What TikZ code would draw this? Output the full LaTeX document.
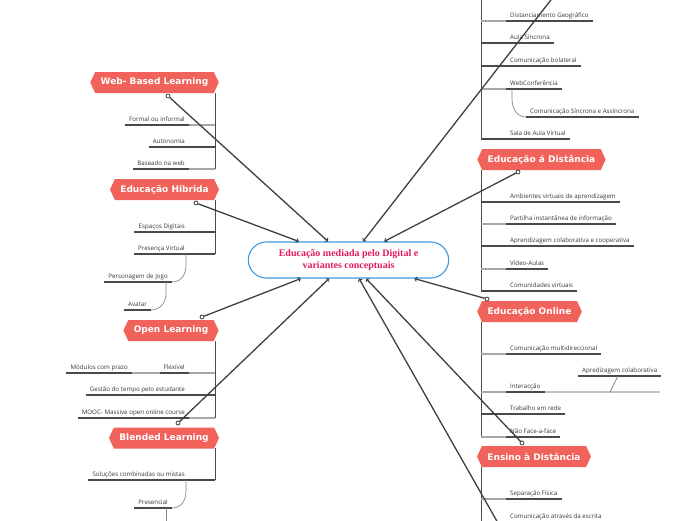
\documentclass[tikz,border=0pt]{standalone}
\usepackage{fontspec}
\newfontfamily\itemfont{Open Sans}
\newfontfamily\topicfont{DejaVu Sans}
\newfontfamily\centerfont{Liberation Serif}
\usetikzlibrary{shapes.misc,shapes.symbols,arrows.meta}
\definecolor{topicred}{HTML}{F0625A}
\definecolor{centerblue}{HTML}{3D9BDB}
\definecolor{centertext}{HTML}{E31C5F}
\definecolor{conncol}{HTML}{404040}
\definecolor{linedark}{HTML}{4A4A4A}
\definecolor{linelight}{HTML}{A8A8A8}
\definecolor{itemtext}{HTML}{383838}
\begin{document}
\begin{tikzpicture}[x=1pt,y=-1pt,
  topic/.style={signal, signal to=west and east, signal pointer angle=130,
    fill=topicred, text=white, font=\topicfont\bfseries\fontsize{9}{10}\selectfont,
    minimum height=21pt, inner xsep=5.5pt, inner ysep=0pt},
  centre/.style={rounded rectangle, draw=centerblue, line width=1.1pt, fill=white,
    minimum width=207pt, minimum height=36pt, align=center, text=centertext,
    font=\centerfont\bfseries\fontsize{10}{12.5}\selectfont},
  ul/.style={draw=linedark, line width=1.2pt},
  item/.style={font=\itemfont\fontsize{6.2}{7}\selectfont, text=itemtext,
    inner xsep=4pt, inner ysep=1pt, text height=5pt, text depth=2.5pt,
    append after command={(\tikzlastnode.south west) edge[ul] (\tikzlastnode.south east)}},
  itemR/.style={item, anchor=south west},
  itemL/.style={item, anchor=south east},
  vline/.style={draw=linedark, line width=1pt},
  hdark/.style={draw=linedark, line width=1.2pt},
  hlight/.style={draw=linelight, line width=1.2pt},
  sub/.style={draw=linelight!80!black, line width=0.7pt},
  conn/.style={draw=conncol, line width=1.3pt, -{Straight Barb[length=2pt,width=4.5pt,line width=0.9pt]}},
  marker/.style={circle, draw=conncol, fill=white, inner sep=0pt, minimum size=4pt, line width=0.8pt}
]
\fill[white] (0,0) rectangle (696,520);
\useasboundingbox (0,0) rectangle (696,520);
\clip (0,0) rectangle (696,520);

% ---------- central node ----------
\node[centre] (center) at (348.5,260) {Educação mediada pelo Digital e\\variantes conceptuais};

% ---------- top branch (topic off canvas) ----------
\coordinate (tT) at (481,-5);
\coordinate (tB) at (481,139);
\draw[vline] (tT) -- (tB);
\node[itemR] (t1) at (506,21) {Distanciamento Geográfico};
\node[itemR] (t2) at (506,43) {Aula Síncrona};
\node[itemR] (t3) at (506,66) {Comunicação bolateral};
\node[itemR] (t4) at (506,89) {WebConferência};
\node[itemR] (t4a) at (526,117) {Comunicação Síncrona e Assíncrona};
\node[itemR] (t5) at (506,139) {Sala de Aula Virtual};
\draw[hlight] (t1.south west -| tT) -- (t1.south west);
\draw[hdark] (t2.south west -| tT) -- (t2.south west);
\draw[hdark] (t3.south west -| tT) -- (t3.south west);
\draw[hlight] (t4.south west -| tT) -- (t4.south west);
\draw[hdark] (t5.south west -| tT) -- (t5.south west);
\draw[sub] ([xshift=6pt]t4.south west) -- ++(0,10) .. controls +(0,11) and +(-8,0) .. (t4a.south west);

% ---------- Educação á Distância ----------
\node[topic] (eda) at (541.5,159.5) {Educação á Distância};
\coordinate (eT) at (481,170);
\coordinate (eB) at (481,291);
\draw[vline] (eT) -- (eB);
\node[itemR] (e1) at (506,202) {Ambientes virtuais de aprendizagem};
\node[itemR] (e2) at (506,224) {Partilha instantânea de informação};
\node[itemR] (e3) at (506,246) {Aprendizagem colaborativa e cooperativa};
\node[itemR] (e4) at (506,269) {Vídeo-Aulas};
\node[itemR] (e5) at (506,291) {Comunidades virtuais};
\draw[hdark] (e1.south west -| eT) -- (e1.south west);
\draw[hlight] (e2.south west -| eT) -- (e2.south west);
\draw[hdark] (e3.south west -| eT) -- (e3.south west);
\draw[hlight] (e4.south west -| eT) -- (e4.south west);
\draw[hdark] (e5.south west -| eT) -- (e5.south west);

% ---------- Educação Online ----------
\node[topic] (onl) at (529.5,311.5) {Educação Online};
\coordinate (oT) at (481,322);
\coordinate (oB) at (481,437);
\draw[vline] (oT) -- (oB);
\node[itemR] (o1) at (506,354) {Comunicação multidireccional};
\node[itemR] (o2) at (506,392) {Interacção};
\node[itemR] (o2a) at (578,376) {Apredizagem colaborativa};
\node[itemR] (o3) at (506,414) {Trabalho em rede};
\node[itemR] (o4) at (506,437) {Não Face-a-face};
\coordinate (o2ext) at (660,392);
\coordinate (o2k) at (610,392);
\draw[hlight] (o1.south west -| oT) -- (o1.south west);
\draw[hlight] (o2.south west -| oT) -- (o2.south west);
\draw[draw=linelight!70, line width=1.2pt] (o2.south east) -- (o2ext);
\draw[sub] (o2k) -- ([xshift=40pt]o2a.south west);
\draw[hdark] (o3.south west -| oT) -- (o3.south west);
\draw[hlight] (o4.south west -| oT) -- (o4.south west);

% ---------- Ensino à Distância ----------
\node[topic] (ens) at (534,456.5) {Ensino à Distância};
\coordinate (nT) at (481,467);
\coordinate (nB) at (481,530);
\draw[vline] (nT) -- (nB);
\node[itemR] (n1) at (506,499) {Separação Física};
\node[itemR] (n2) at (506,522) {Comunicação através da escrita};
\draw[hlight] (n1.south west -| nT) -- (n1.south west);
\draw[hdark] (n2.south west -| nT) -- (n2.south west);

% ---------- Web- Based Learning ----------
\node[topic] (web) at (154.5,82.5) {Web- Based Learning};
\coordinate (wT) at (215,93);
\coordinate (wB) at (215,169);
\draw[vline] (wT) -- (wB);
\node[itemL] (w1) at (189,125) {Formal ou informal};
\node[itemL] (w2) at (189,147) {Autonomia};
\node[itemL] (w3) at (189,169) {Baseado na web};
\draw[hlight] (w1.south east) -- (w1.south east -| wT);
\draw[hdark] (w2.south east) -- (w2.south east -| wT);
\draw[hlight] (w3.south east) -- (w3.south east -| wT);

% ---------- Educação Hibrida ----------
\node[topic] (hib) at (164.5,189.5) {Educação Hibrida};
\coordinate (hT) at (215,200);
\coordinate (hB) at (215,254);
\draw[vline] (hT) -- (hB);
\node[itemL] (h1) at (189,232) {Espaços Digitais};
\node[itemL] (h2) at (189,254) {Presença Virtual};
\node[itemL] (h2a) at (172,282) {Personagem de Jogo};
\node[itemL] (h2b) at (151,310) {Avatar};
\draw[hdark] (h1.south east) -- (h1.south east -| hT);
\draw[hdark] (h2.south east) -- (h2.south east -| hT);
\draw[sub] ([xshift=-3pt]h2.south east) -- ++(0,11) .. controls +(0,11) and +(8,0) .. (h2a.south east);
\draw[sub] ([xshift=-6pt]h2a.south east) -- ++(0,11) .. controls +(0,11) and +(8,0) .. (h2b.south east);

% ---------- Open Learning ----------
\node[topic] (open) at (171,330.5) {Open Learning};
\coordinate (lT) at (215,341);
\coordinate (lB) at (215,418);
\draw[vline] (lT) -- (lB);
\node[itemL] (l1) at (189,373) {Flexível};
\node[itemL] (l1a) at (132,373) {Módulos com prazo};
\node[itemL] (l2) at (189,395) {Gestão do tempo pelo estudante};
\node[itemL] (l3) at (189,418) {MOOC- Massive open online course};
\draw[hlight] (l1.south east) -- (l1.south east -| lT);
\draw[hlight] (l1a.south east) -- (l1.south west);
\draw[hdark] (l2.south east) -- (l2.south east -| lT);
\draw[hlight] (l3.south east) -- (l3.south east -| lT);

% ---------- Blended Learning ----------
\node[topic] (blend) at (164,438) {Blended Learning};
\coordinate (bT) at (215,448);
\coordinate (bB) at (215,480);
\draw[vline] (bT) -- (bB);
\node[itemL] (b1) at (189,480) {Soluções combinadas ou mistas};
\node[itemL] (b1a) at (172,508) {Presencial};
\coordinate (b1aoff) at (166,530);
\draw[hdark] (b1.south east) -- (b1.south east -| bT);
\draw[sub] ([xshift=-3pt]b1.south east) -- ++(0,11) .. controls +(0,11) and +(8,0) .. (b1a.south east);
\draw[sub] ([xshift=-6pt]b1a.south east) -- (b1aoff);

% ---------- connectors ----------
\node[marker] (mweb) at (168,96) {};
\node[marker] (mhib) at (196,203) {};
\node[marker] (mopen) at (202,317) {};
\node[marker] (mblend) at (178,423) {};
\node[marker] (meda) at (518,172) {};
\node[marker] (monl) at (487,299) {};
\node[marker] (mens) at (522,443) {};
\coordinate (topoff) at (582,-40);
\coordinate (botoff) at (519,560);
\draw[conn] (mweb) -- (center);
\draw[conn] (mhib) -- (center);
\draw[conn] (mopen) -- (center);
\draw[conn] (mblend) -- (center);
\draw[conn] (meda) -- (center);
\draw[conn] (monl) -- (center);
\draw[conn] (mens) -- (center);
\draw[conn] (topoff) -- (center);
\draw[conn] (botoff) -- (center);
\end{tikzpicture}
\end{document}
